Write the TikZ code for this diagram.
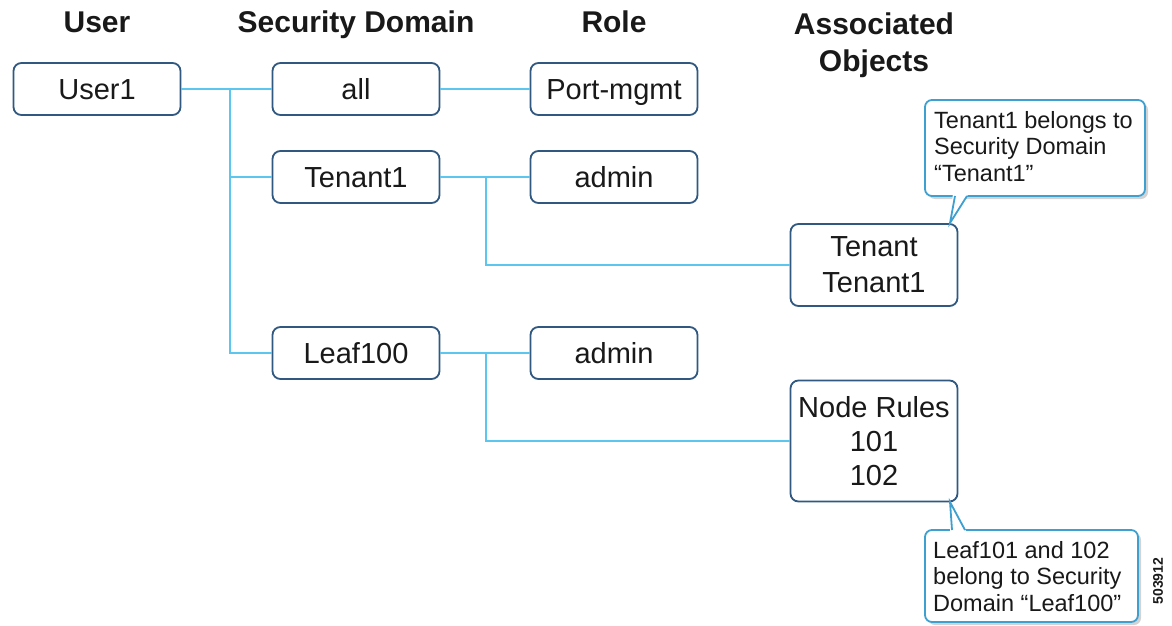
\documentclass[tikz,border=0pt]{standalone}
\usepackage{fontspec}
\setmainfont{Liberation Sans}
\usetikzlibrary{shadows}
\definecolor{boxblue}{RGB}{48,88,128}
\definecolor{linkblue}{RGB}{92,198,238}
\definecolor{callblue}{RGB}{62,160,208}
\definecolor{txt}{RGB}{25,25,25}
\tikzset{
  hdr/.style={font=\bfseries\fontsize{30}{37}\selectfont, text=txt, anchor=base, align=center},
  obox/.style={draw=boxblue, line width=1.8pt, rounded corners=8pt, fill=white,
     minimum width=167pt, minimum height=52pt, inner sep=0pt, text=txt,
     font=\fontsize{29}{35}\selectfont, text height=21pt, text depth=0pt},
  mbox/.style={draw=boxblue, line width=1.8pt, rounded corners=8pt, fill=white,
     minimum width=167pt, inner sep=0pt, text=txt, align=center, text depth=0pt},
  link/.style={draw=linkblue, line width=2.6pt},
  callbox/.style={draw=callblue, line width=1.8pt, rounded corners=7pt, fill=white,
     drop shadow={shadow xshift=3pt, shadow yshift=-3pt, opacity=0.35, fill=gray}},
  calledge/.style={draw=callblue, line width=1.8pt, line join=miter},
  calltext/.style={anchor=north west, align=left, text=txt, inner sep=0pt,
     font=\fontsize{23.5}{26.5}\selectfont}
}
\begin{document}
\begin{tikzpicture}[x=1pt,y=-1pt]
\useasboundingbox (0,0) rectangle (1172,626);
% headers
\node[hdr] (hUser) at (97,33) {User};
\node[hdr] (hSec) at (356,33) {Security Domain};
\node[hdr] (hRole) at (614,33) {Role};
\node[hdr, anchor=north] (hAssoc) at (874,9) {Associated\\Objects};
% boxes
\node[obox] (user1) at (97,89) {User1};
\node[obox] (all) at (356,89) {all};
\node[obox] (port) at (614,89) {Port-mgmt};
\node[obox] (ten) at (356,177) {Tenant1};
\node[obox] (adm1) at (614,177) {admin};
\node[obox] (leaf) at (356,353) {Leaf100};
\node[obox] (adm2) at (614,353) {admin};
\node[mbox, minimum height=82pt, font=\fontsize{29}{36}\selectfont, text depth=-6pt] (tobj) at (874,265) {Tenant\\Tenant1};
\node[mbox, minimum height=121pt, font=\fontsize{29}{34}\selectfont] (nobj) at (874,441) {Node Rules\\101\\102};
% connectors
\coordinate (j1) at (230,89);
\coordinate (j2) at (486,177);
\coordinate (j3) at (486,353);
\draw[link] (user1.east) -- (all.west);
\draw[link] (j1) |- (ten.west);
\draw[link] (j1) |- (leaf.west);
\draw[link] (all.east) -- (port.west);
\draw[link] (ten.east) -- (adm1.west);
\draw[link] (j2) |- (tobj.west);
\draw[link] (leaf.east) -- (adm2.west);
\draw[link] (j3) |- (nobj.west);
% callout 1
\coordinate (tip1) at (950,223);
\draw[callbox] (925,100) rectangle (1145,196);
\fill[white] (953,193) -- (tip1) -- (969,193) -- cycle;
\draw[calledge] (955,196) -- (tip1) -- (967,196);
\node[calltext] (c1) at (934,111) {Tenant1 belongs to\\Security Domain\\“Tenant1”};
% callout 2
\coordinate (tip2) at (950,502);
\draw[callbox] (925,530) rectangle (1138,622);
\fill[white] (950,533) -- (tip2) -- (967,533) -- cycle;
\draw[calledge] (952,530) -- (tip2) -- (965,530);
\node[calltext] (c2) at (933,541) {Leaf101 and 102\\belong to Security\\Domain “Leaf100”};
% figure id
\node[rotate=90, font=\bfseries\fontsize{14}{14}\selectfont, text=txt] (fid) at (1158,581) {503912};
\end{tikzpicture}
\end{document}
